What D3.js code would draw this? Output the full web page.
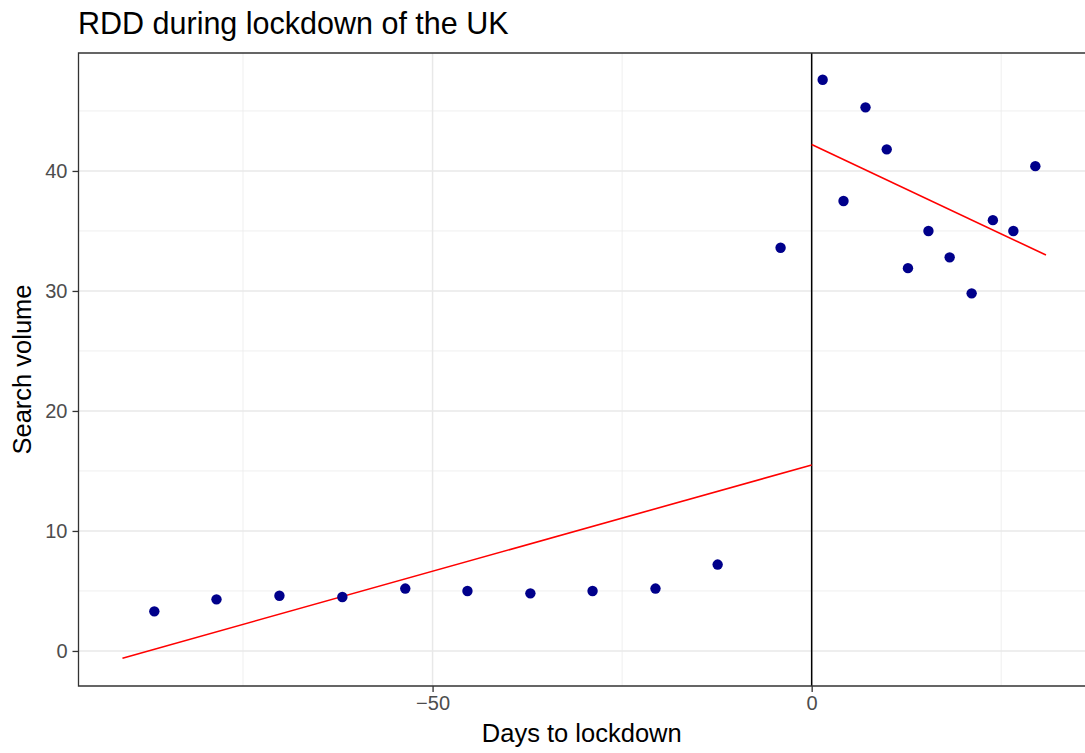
<!DOCTYPE html>
<html>
<head>
<meta charset="utf-8">
<script src="https://cdn.jsdelivr.net/npm/d3@7"></script>
<style>
  body { margin: 0; background: #fff; }
  text { font-family: "Liberation Sans", Arial, sans-serif; }
</style>
</head>
<body>
<svg id="viz" width="1085" height="753"></svg>
<script>
// days to lockdown and search volume
const days = [-86.7, -78.5, -70.2, -61.9, -53.6, -45.4, -37.1, -28.9, -20.6, -12.4, -4.1,
              1.45, 4.2, 7.1, 9.9, 12.7, 15.4, 18.2, 21.1, 23.9, 26.6, 29.5];
const volume = [3.3, 4.3, 4.6, 4.5, 5.2, 5.0, 4.8, 5.0, 5.2, 7.2, 33.6,
                47.6, 37.5, 45.3, 41.8, 31.9, 35.0, 32.8, 29.8, 35.9, 35.0, 40.4];
// fitted lines each side of the cutoff
const fitPre = [[-90.9, -0.6], [0, 15.5]];
const fitPost = [[0, 42.2], [30.9, 33.0]];
const xTicks = [-50, 0];
const xMinor = [-75, -25, 25];
const yTicks = [0, 10, 20, 30, 40];
const yMinor = [5, 15, 25, 35, 45];

const svg = d3.select("#viz");
const m = {left: 78.5, right: 1085, top: 53, bottom: 686};

const x = d3.scaleLinear().domain([-96.7, 36.05]).range([m.left, m.right]);
const y = d3.scaleLinear().domain([-2.92, 49.83]).range([m.bottom, m.top]);

const grid = svg.append("g");
grid.selectAll(".ymin").data(yMinor).enter().append("line")
    .attr("x1", m.left).attr("x2", m.right)
    .attr("y1", d => y(d)).attr("y2", d => y(d))
    .attr("stroke", "#ebebeb").attr("stroke-width", 0.8);
grid.selectAll(".xmin").data(xMinor).enter().append("line")
    .attr("y1", m.top).attr("y2", m.bottom)
    .attr("x1", d => x(d)).attr("x2", d => x(d))
    .attr("stroke", "#ebebeb").attr("stroke-width", 0.8);
grid.selectAll(".ymaj").data(yTicks).enter().append("line")
    .attr("x1", m.left).attr("x2", m.right)
    .attr("y1", d => y(d)).attr("y2", d => y(d))
    .attr("stroke", "#e8e8e8").attr("stroke-width", 1.5);
grid.selectAll(".xmaj").data(xTicks).enter().append("line")
    .attr("y1", m.top).attr("y2", m.bottom)
    .attr("x1", d => x(d)).attr("x2", d => x(d))
    .attr("stroke", "#e8e8e8").attr("stroke-width", 1.5);

// cutoff
svg.append("line")
    .attr("x1", x(0)).attr("x2", x(0)).attr("y1", m.top).attr("y2", m.bottom)
    .attr("stroke", "#000").attr("stroke-width", 1.5);

const line = d3.line().x(d => x(d[0])).y(d => y(d[1]));
[fitPre, fitPost].forEach(f => {
    svg.append("path").attr("d", line(f))
        .attr("fill", "none").attr("stroke", "#ff0000").attr("stroke-width", 1.6);
});

svg.selectAll("circle").data(days).enter().append("circle")
    .attr("cx", d => x(d))
    .attr("cy", (d, i) => y(volume[i]))
    .attr("r", 5.2)
    .attr("fill", "#00008b");

// panel border
svg.append("path")
    .attr("d", `M${m.right},${m.top}H${m.left}V${m.bottom}H${m.right}`)
    .attr("fill", "none").attr("stroke", "#333").attr("stroke-width", 1.3);

const xAxis = svg.append("g").attr("transform", `translate(0,${m.bottom})`)
    .call(d3.axisBottom(x).tickValues(xTicks).tickSize(6).tickPadding(4).tickFormat(d3.format("d")));
const yAxis = svg.append("g").attr("transform", `translate(${m.left},0)`)
    .call(d3.axisLeft(y).tickValues(yTicks).tickSize(6).tickPadding(5));
[xAxis, yAxis].forEach(a => {
    a.attr("font-size", null).attr("font-family", null);
    a.select(".domain").remove();
    a.selectAll(".tick line").attr("stroke", "#333").attr("stroke-width", 1.3);
    a.selectAll(".tick text").attr("fill", "#4d4d4d").style("font-size", "20px");
});

svg.append("text").attr("x", 78).attr("y", 34)
    .style("font-size", "30.5px").attr("fill", "#000")
    .text("RDD during lockdown of the UK");
svg.append("text").attr("x", (m.left + m.right) / 2).attr("y", 742)
    .attr("text-anchor", "middle").style("font-size", "25.5px")
    .text("Days to lockdown");
svg.append("text")
    .attr("transform", `translate(31,${(m.top + m.bottom) / 2}) rotate(-90)`)
    .attr("text-anchor", "middle").style("font-size", "25.5px")
    .text("Search volume");
</script>
</body>
</html>
